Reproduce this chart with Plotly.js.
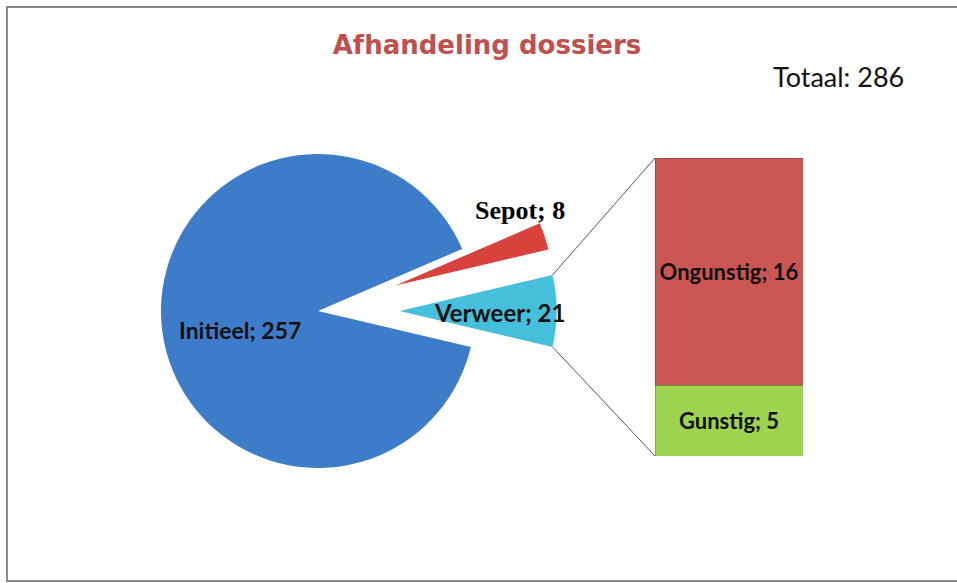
<!DOCTYPE html>
<html><head><meta charset="utf-8">
<script src="https://cdn.plot.ly/plotly-3.0.1.min.js"></script>
<style>body{margin:0;background:#fff}#c{width:957px;height:583px}</style>
</head><body><div id="c"></div>
<script>
// Pie data (clockwise order starting at Sepot)
const pieLabels = ['Sepot', 'Verweer', 'Initieel'];
const pieValues = [8, 21, 257];
// Bar (breakdown of Verweer)
const barLabels = ['Gunstig', 'Ongunstig'];
const barValues = [5, 16];
const totalLabel = 'Totaal';
const totalValue = 286;

const W = 957, H = 583;
const pieColors = ['#D8413C', '#45BFDC', '#3D7CC9'];
const barColors = ['#9ED350', '#CB5553'];
const pulls = [0.52, 0.52, 0];

// pie geometry (pixels)
const cx = 318, cy = 311, rPx = 157;
const maxPull = Math.max(...pulls);
const half = rPx * (1 + maxPull);
const pieDomX = [(cx - half) / W, (cx + half) / W];
const pieDomY = [1 - (cy + half) / H, 1 - (cy - half) / H];

const sum = pieValues.reduce((a, b) => a + b, 0);
const verAngle = pieValues[1] / sum * 360;
const sepAngle = pieValues[0] / sum * 360;
const rotation = 90 - verAngle / 2 - sepAngle;

// bar domain
const barDomX = [655 / W, 803 / W];
const barDomY = [1 - 456 / H, 1 - 158 / H];
const barTotal = barValues.reduce((a, b) => a + b, 0);

function rad(d) { return d * Math.PI / 180; }
function sliceMid(i) {
  let a = rotation;
  for (let k = 0; k < i; k++) a += pieValues[k] / sum * 360;
  return a + pieValues[i] / sum * 360 / 2;
}
function px2paper(x, y) { return [x / W, 1 - y / H]; }

const vMid = sliceMid(1);
const apexX = cx + pulls[1] * rPx * Math.sin(rad(vMid));
const apexY = cy - pulls[1] * rPx * Math.cos(rad(vMid));
const vTop = [apexX + rPx * Math.sin(rad(vMid - verAngle / 2)), apexY - rPx * Math.cos(rad(vMid - verAngle / 2))];
const vBot = [apexX + rPx * Math.sin(rad(vMid + verAngle / 2)), apexY - rPx * Math.cos(rad(vMid + verAngle / 2))];
const pT = px2paper(vTop[0], vTop[1]);
const pB = px2paper(vBot[0], vBot[1]);

const labFam = 'Lato, sans-serif';
const traces = [
  {
    type: 'pie', sort: false, direction: 'clockwise', rotation: rotation,
    labels: pieLabels, values: pieValues, pull: pulls,
    marker: { colors: pieColors, line: { width: 0 } },
    textinfo: 'none', hoverinfo: 'label+value',
    domain: { x: pieDomX, y: pieDomY }, showlegend: false
  }
];
barLabels.forEach((lab, i) => {
  traces.push({
    type: 'bar', x: [0], y: [barValues[i]], name: lab,
    marker: { color: barColors[i], line: { color: 'rgba(0,0,0,0.18)', width: 1 } },
    width: 1, xaxis: 'x', yaxis: 'y', showlegend: false,
    text: ['<b>' + lab + '; ' + barValues[i] + '</b>'], texttemplate: '%{text}',
    textposition: 'inside', insidetextanchor: 'middle',
    textfont: { family: labFam, size: 22, color: '#111' },
    constraintext: 'none', cliponaxis: false
  });
});

const labFont = { family: labFam, size: 23, color: '#111' };
const annotations = [
  { text: '<b>' + pieLabels[2] + '; ' + pieValues[2] + '</b>', x: 240 / W, y: 1 - 330 / H, xref: 'paper', yref: 'paper', xanchor: 'center', yanchor: 'middle', showarrow: false, font: labFont },
  { text: '<b>' + pieLabels[1] + '; ' + pieValues[1] + '</b>', x: 499 / W, y: 1 - 312 / H, xref: 'paper', yref: 'paper', xanchor: 'center', yanchor: 'middle', showarrow: false, font: { family: labFam, size: 24, color: '#111' } },
  { text: '<b>' + pieLabels[0] + '; ' + pieValues[0] + '</b>', x: 520 / W, y: 1 - 210 / H, xref: 'paper', yref: 'paper', xanchor: 'center', yanchor: 'middle', showarrow: false, font: { family: 'Liberation Serif, serif', size: 26, color: '#000' } },
  { text: totalLabel + ': ' + totalValue, x: 838 / W, y: 1 - 77 / H, xref: 'paper', yref: 'paper', xanchor: 'center', yanchor: 'middle', showarrow: false, font: { family: labFam, size: 27, color: '#111' } }
];

const shapes = [
  { type: 'rect', xref: 'paper', yref: 'paper', x0: 7 / W, x1: 1.01, y0: 1 - 581 / H, y1: 1 - 7 / H, line: { color: '#888', width: 2 }, layer: 'below' },
  { type: 'line', xref: 'paper', yref: 'paper', x0: pT[0], y0: pT[1], x1: barDomX[0], y1: barDomY[1], line: { color: '#555', width: 1 } },
  { type: 'line', xref: 'paper', yref: 'paper', x0: pB[0], y0: pB[1], x1: barDomX[0], y1: barDomY[0], line: { color: '#555', width: 1 } }
];

const layout = {
  width: W, height: H, margin: { l: 0, r: 0, t: 0, b: 0 },
  paper_bgcolor: '#fff', plot_bgcolor: 'rgba(0,0,0,0)',
  title: { text: '<b>Afhandeling dossiers</b>', x: 487 / W, xanchor: 'center', y: 1 - 45 / H, yanchor: 'middle', font: { family: 'DejaVu Sans, sans-serif', size: 26, color: '#C0504D' } },
  barmode: 'stack',
  xaxis: { domain: barDomX, range: [-0.5, 0.5], visible: false, fixedrange: true },
  yaxis: { domain: barDomY, range: [0, barTotal], visible: false, fixedrange: true },
  annotations: annotations, shapes: shapes, showlegend: false
};

Plotly.newPlot('c', traces, layout, { displayModeBar: false, staticPlot: true });
</script></body></html>
